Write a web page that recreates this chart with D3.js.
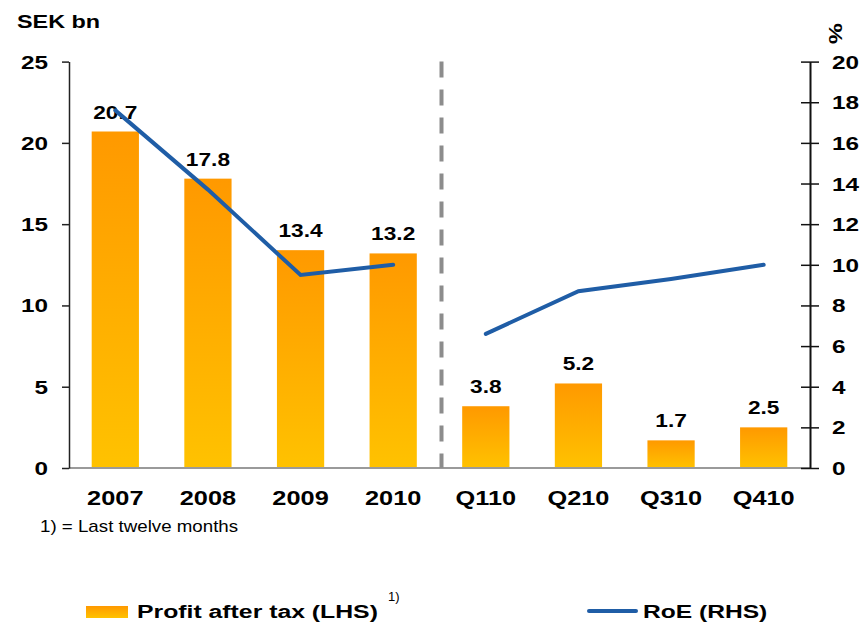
<!DOCTYPE html>
<html>
<head>
<meta charset="utf-8">
<script src="https://cdn.jsdelivr.net/npm/d3@7"></script>
<style>
  html, body { margin: 0; padding: 0; background: #fff; }
  svg { display: block; }
  text { font-family: "Liberation Sans", Arial, sans-serif; fill: #000; }
</style>
</head>
<body>
<svg id="chart" width="863" height="623"></svg>
<script>
// ---------- data ----------
const years = ["2007", "2008", "2009", "2010"];
const quarters = ["Q110", "Q210", "Q310", "Q410"];
const categories = years.concat(quarters);
const profitAfterTax = [20.7, 17.8, 13.4, 13.2, 3.8, 5.2, 1.7, 2.5];   // SEK bn (LHS)
const roe = [17.6, 13.7, 9.5, 10.0, 6.6, 8.7, 9.3, 10.0];              // % (RHS)
const leftTicks = [0, 5, 10, 15, 20, 25];
const rightTicks = [0, 2, 4, 6, 8, 10, 12, 14, 16, 18, 20];

// ---------- layout ----------
const svg = d3.select("#chart");
const plot = { left: 69, right: 810, top: 61.6, bottom: 468 };
const SX = 1.3; // horizontal stretch of the original typography

const x = d3.scaleBand().domain(categories).range([plot.left, plot.right]).paddingInner(0.49).paddingOuter(0.245);
const yL = d3.scaleLinear().domain([0, 25]).range([plot.bottom, plot.top]);
const yR = d3.scaleLinear().domain([0, 20]).range([plot.bottom, plot.top]);

function label(parent, px, py, str, o = {}) {
  return parent.append("text")
    .attr("transform", `translate(${px},${py}) ${o.rotate ? `rotate(${o.rotate})` : ""} scale(${o.sx ?? SX},1)`)
    .attr("text-anchor", o.anchor || "start")
    .attr("font-size", (o.size || 18) + "px")
    .attr("font-weight", o.weight || "bold")
    .text(str);
}

// gradient for bars
const defs = svg.append("defs");
const grad = defs.append("linearGradient").attr("id", "barGrad")
  .attr("x1", 0).attr("y1", 0).attr("x2", 0).attr("y2", 1);
grad.append("stop").attr("offset", "0%").attr("stop-color", "#FF9900");
grad.append("stop").attr("offset", "100%").attr("stop-color", "#FFC200");

// bars
svg.append("g").selectAll("rect").data(categories).join("rect")
  .attr("x", d => x(d))
  .attr("y", (d, i) => yL(profitAfterTax[i]))
  .attr("width", x.bandwidth())
  .attr("height", (d, i) => yL(0) - yL(profitAfterTax[i]))
  .attr("fill", "url(#barGrad)");

// baseline
svg.append("line")
  .attr("x1", plot.left).attr("x2", plot.right)
  .attr("y1", yL(0)).attr("y2", yL(0))
  .attr("stroke", "#9a9a9a").attr("stroke-width", 2);

// dashed divider between years and quarters
const divX = (x(years[years.length - 1]) + x.bandwidth() + x(quarters[0])) / 2 + 2;
svg.append("line")
  .attr("x1", divX).attr("x2", divX)
  .attr("y1", plot.top).attr("y2", plot.bottom)
  .attr("stroke", "#8c8c8c").attr("stroke-width", 4)
  .attr("stroke-dasharray", "16,12");

// left axis
const gL = svg.append("g").attr("transform", `translate(${plot.left},0)`)
  .call(d3.axisLeft(yL).tickValues(leftTicks).tickSize(7).tickSizeOuter(0).tickFormat(""));
gL.select(".domain").attr("stroke", "#222").attr("stroke-width", 1.5);
gL.selectAll(".tick line").attr("stroke", "#222").attr("stroke-width", 1.5);
leftTicks.forEach(v => label(svg, 48, yL(v) + 7, String(v), { anchor: "end", size: 19, sx: 1.28 }));

// right axis
const gR = svg.append("g").attr("transform", `translate(${plot.right},0)`)
  .call(d3.axisRight(yR).tickValues(rightTicks).tickSize(9).tickSizeOuter(0).tickFormat(""));
gR.select(".domain").attr("stroke", "#111").attr("stroke-width", 2);
gR.selectAll(".tick line").attr("x1", -9).attr("stroke", "#111").attr("stroke-width", 1.5);
rightTicks.forEach(v => label(svg, 832, yR(v) + 7, String(v), { anchor: "start", size: 19, sx: 1.28 }));

// axis titles
label(svg, 17, 28, "SEK bn", { size: 18 });
label(svg, 842, 44, "%", { size: 18, rotate: -90 });

// category labels
categories.forEach(c => label(svg, x(c) + x.bandwidth() / 2, 505, c, { anchor: "middle", size: 19.5 }));

// value labels
categories.forEach((c, i) => label(svg, x(c) + x.bandwidth() / 2, yL(profitAfterTax[i]) - 13,
  profitAfterTax[i].toFixed(1), { anchor: "middle", size: 18, sx: 1.26 }));

// RoE line (two segments: years, quarters)
const line = d3.line().x(d => x(d.c) + x.bandwidth() / 2).y(d => yR(d.v));
[years, quarters].forEach(group => {
  const pts = group.map(c => ({ c, v: roe[categories.indexOf(c)] }));
  svg.append("path").datum(pts)
    .attr("d", line)
    .attr("fill", "none")
    .attr("stroke", "#1F5DA6")
    .attr("stroke-width", 4)
    .attr("stroke-linecap", "round")
    .attr("stroke-linejoin", "miter");
});

// footnote
label(svg, 40, 532, "1) = Last twelve months", { size: 16, weight: "normal", sx: 1.17 });

// legend
svg.append("rect").attr("x", 86).attr("y", 606).attr("width", 42).attr("height", 12).attr("fill", "url(#barGrad)");
label(svg, 137, 618, "Profit after tax (LHS)", { size: 18.5, sx: 1.34 });
label(svg, 388, 601, "1)", { size: 13, weight: "normal", sx: 1 });
svg.append("line").attr("x1", 589).attr("x2", 636).attr("y1", 611).attr("y2", 611)
  .attr("stroke", "#1F5DA6").attr("stroke-width", 4).attr("stroke-linecap", "round");
label(svg, 643, 618, "RoE (RHS)", { size: 18.5, sx: 1.33 });
</script>
</body>
</html>
